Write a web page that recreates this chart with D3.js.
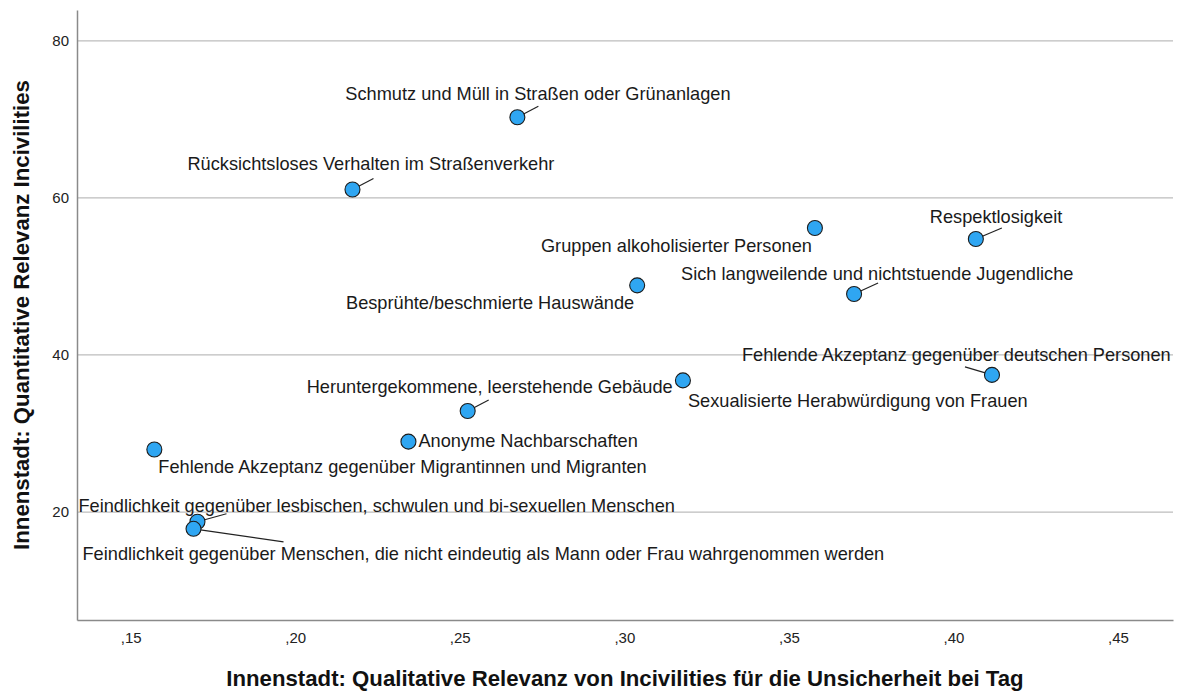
<!DOCTYPE html>
<html>
<head>
<meta charset="utf-8">
<script src="https://cdn.jsdelivr.net/npm/d3@7"></script>
<style>
  html, body { margin: 0; padding: 0; background: #ffffff; }
  svg { display: block; font-family: "Liberation Sans", Arial, sans-serif; }
</style>
</head>
<body>
<svg id="chart" width="1182" height="693"></svg>
<script>
// ---- Data ----
const categories = [
  "Schmutz und Müll in Straßen oder Grünanlagen",
  "Rücksichtsloses Verhalten im Straßenverkehr",
  "Gruppen alkoholisierter Personen",
  "Respektlosigkeit",
  "Besprühte/beschmierte Hauswände",
  "Sich langweilende und nichtstuende Jugendliche",
  "Fehlende Akzeptanz gegenüber deutschen Personen",
  "Sexualisierte Herabwürdigung von Frauen",
  "Heruntergekommene, leerstehende Gebäude",
  "Anonyme Nachbarschaften",
  "Fehlende Akzeptanz gegenüber Migrantinnen und Migranten",
  "Feindlichkeit gegenüber lesbischen, schwulen und bi-sexuellen Menschen",
  "Feindlichkeit gegenüber Menschen, die nicht eindeutig als Mann oder Frau wahrgenommen werden"
];
const qualitative = [0.2675, 0.2174, 0.3579, 0.4068, 0.3039, 0.3698, 0.4117, 0.3178, 0.2524, 0.2344, 0.1572, 0.1703, 0.1691];
const quantitative = [70.2, 61.0, 56.1, 54.7, 48.8, 47.7, 37.4, 36.7, 32.8, 28.9, 27.9, 18.7, 17.8];
const xTicks = [0.15, 0.20, 0.25, 0.30, 0.35, 0.40, 0.45];
const xTickLabels = [",15", ",20", ",25", ",30", ",35", ",40", ",45"];
const yTicks = [20, 40, 60, 80];
const yTickLabels = ["20", "40", "60", "80"];
const xTitle = "Innenstadt: Qualitative Relevanz von Incivilities für die Unsicherheit bei Tag";
const yTitle = "Innenstadt: Quantitative Relevanz Incivilities";

// ---- Label layout (pixel offsets from point centre; styling only) ----
// [anchor, dx, dy(baseline), leaderDx, leaderDy]  (leader null = none)
const labelLayout = [
  ["start", -172, -17, 21, -11],
  ["start", -165, -20, 21, -11],
  ["end", -3, 24, null, null],
  ["start", -46, -16, 26, -11],
  ["end", -3, 24, null, null],
  ["start", -173, -14, 24, -11],
  ["start", -250, -14, -27, -8],
  ["start", 5, 27, null, null],
  ["start", -161, -18, 21, -11],
  ["start", 10, 5, null, null],
  ["start", 4, 24, null, null],
  ["start", -119, -10, 29, -8],
  ["start", -111, 31, 90, 13]
];

// ---- Layout ----
const W = 1182, H = 693;
const margin = { left: 77, right: 9, top: 10, bottom: 73 };
const svg = d3.select("#chart");

const x = d3.scaleLinear()
  .domain([0.1337, 0.4667])
  .range([margin.left, W - margin.right]);
const y = d3.scaleLinear()
  .domain([6.19, 83.86])
  .range([H - margin.bottom, margin.top]);

// grid lines
svg.append("g").attr("class", "grid")
  .attr("transform", `translate(${margin.left},0)`)
  .call(d3.axisLeft(y).tickValues(yTicks).tickSize(-(W - margin.left - margin.right)).tickFormat(""))
  .call(g => g.select(".domain").remove())
  .call(g => g.selectAll("line").attr("stroke", "#bdbdbd").attr("stroke-width", 1.3));

// x axis
const xAxis = svg.append("g")
  .attr("transform", `translate(0,${H - margin.bottom})`)
  .call(d3.axisBottom(x).tickValues(xTicks).tickSize(0).tickPadding(12)
    .tickFormat((d, i) => xTickLabels[i]));
xAxis.select(".domain").attr("stroke", "#8a8a8a").attr("stroke-width", 1.5);
xAxis.selectAll("text").attr("font-size", 15).attr("fill", "#222")
  .attr("font-family", "Liberation Sans, Arial, sans-serif");

// y axis
const yAxis = svg.append("g")
  .attr("transform", `translate(${margin.left},0)`)
  .call(d3.axisLeft(y).tickValues(yTicks).tickSize(0).tickPadding(8)
    .tickFormat((d, i) => yTickLabels[i]));
yAxis.select(".domain").attr("stroke", "#8a8a8a").attr("stroke-width", 1.5);
yAxis.selectAll("text").attr("font-size", 15).attr("fill", "#222")
  .attr("font-family", "Liberation Sans, Arial, sans-serif");

// axis titles
svg.append("text")
  .attr("x", (margin.left + W - margin.right) / 2)
  .attr("y", 686)
  .attr("text-anchor", "middle")
  .attr("font-size", 22.2)
  .attr("font-weight", "bold")
  .attr("fill", "#111")
  .text(xTitle);

svg.append("text")
  .attr("transform", `translate(29,${(margin.top + H - margin.bottom) / 2}) rotate(-90)`)
  .attr("text-anchor", "middle")
  .attr("font-size", 22.2)
  .attr("font-weight", "bold")
  .attr("fill", "#111")
  .text(yTitle);

// data records
const pts = categories.map((c, i) => ({
  name: c, qx: qualitative[i], qy: quantitative[i], lay: labelLayout[i]
}));

// leader lines
svg.append("g").selectAll("line")
  .data(pts.filter(d => d.lay[3] !== null))
  .join("line")
  .attr("x1", d => x(d.qx)).attr("y1", d => y(d.qy))
  .attr("x2", d => x(d.qx) + d.lay[3]).attr("y2", d => y(d.qy) + d.lay[4])
  .attr("stroke", "#222").attr("stroke-width", 1.2);

// labels
svg.append("g").selectAll("text")
  .data(pts)
  .join("text")
  .attr("x", d => x(d.qx) + d.lay[1])
  .attr("y", d => y(d.qy) + d.lay[2])
  .attr("text-anchor", d => d.lay[0])
  .attr("font-size", 18.2)
  .attr("fill", "#1a1a1a")
  .text(d => d.name);

// points
svg.append("g").selectAll("circle")
  .data(pts)
  .join("circle")
  .attr("cx", d => x(d.qx))
  .attr("cy", d => y(d.qy))
  .attr("r", 7.5)
  .attr("fill", "#2fa6f2")
  .attr("stroke", "#1b1b1b")
  .attr("stroke-width", 1.1);
</script>
</body>
</html>
